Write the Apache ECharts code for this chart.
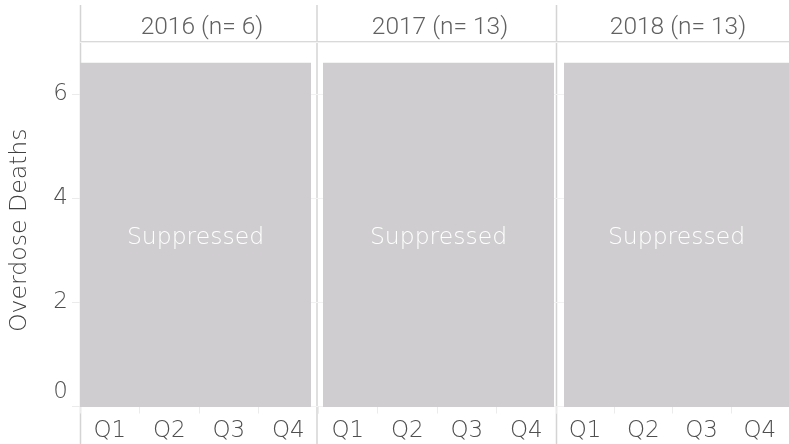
<!DOCTYPE html>
<html>
<head>
<meta charset="utf-8">
<script src="https://cdn.jsdelivr.net/npm/echarts@6/dist/echarts.min.js"></script>
<style>
  html, body { margin: 0; padding: 0; background: #fff; }
  #chart { width: 789px; height: 444px; }
</style>
</head>
<body>
<div id="chart"></div>
<script>
// ---- data ----
const years = ['2016', '2017', '2018'];
const counts = [6, 13, 13];
const quarters = ['Q1', 'Q2', 'Q3', 'Q4'];
const suppressedHeight = [6.6, 6.6, 6.6];
const suppressedLabel = 'Suppressed';
const yTitle = 'Overdose Deaths';

// ---- styling / layout ----
const FONT = "'DejaVu Sans', Roboto, sans-serif";
const FW = 200;
const FONT2 = "Roboto, sans-serif";
const FW2 = 300;
const panelLeft = [80, 318, 556];
const panelWidth = 238;
const gridTop = 42;
const gridBottom = 37.5;
const rectInset = [[0, 7], [5, 2], [8, 0]];
const barColor = '#cfcdcf';
const textColor = '#4f4f4f';

const chart = echarts.init(document.getElementById('chart'));

const grids = [], xAxes = [], yAxes = [], series = [], titles = [];
years.forEach((yr, i) => {
  grids.push({ left: panelLeft[i], width: panelWidth, top: gridTop, bottom: gridBottom });
  xAxes.push({
    type: 'category', gridIndex: i, data: quarters, boundaryGap: true,
    axisLine: { show: false },
    axisTick: { show: true, length: 7, lineStyle: { color: '#ebebeb' } },
    axisLabel: { color: textColor, fontSize: 23, fontFamily: FONT, fontWeight: FW, margin: 13 },
    splitLine: { show: false }
  });
  yAxes.push({
    type: 'value', gridIndex: i, min: 0, max: 7, interval: 2,
    name: i === 0 ? yTitle : '', nameLocation: 'middle', nameGap: 48,
    nameTextStyle: { color: '#404040', fontSize: 23.6, fontFamily: FONT, fontWeight: FW, padding: [0, 12, 0, 0] },
    axisLine: { show: false },
    axisTick: { show: i === 0, length: 8, lineStyle: { color: '#ebebeb' } },
    axisLabel: {
      show: i === 0, showMaxLabel: false, margin: 12,
      color: textColor, fontSize: 23, fontFamily: FONT, fontWeight: FW,
      formatter: v => v === 0 ? '{z|0}' : String(v),
      rich: { z: { color: textColor, fontSize: 23, fontFamily: FONT, fontWeight: FW, padding: [0, 0, 29, 0] } }
    },
    splitLine: { show: true, lineStyle: { color: '#f2f2f2', width: 1 } }
  });
  titles.push({
    text: yr + ' (n= ' + counts[i] + ')',
    left: panelLeft[i] + panelWidth / 2 - 2, top: 10, textAlign: 'center',
    textStyle: { color: '#616161', fontSize: 24.5, fontFamily: FONT2, fontWeight: FW2 }
  });
  series.push({
    type: 'custom', xAxisIndex: i, yAxisIndex: i, z: 3,
    data: [[0, suppressedHeight[i]]],
    encode: { x: 0, y: 1 },
    renderItem: (params, api) => {
      const band = api.size([1, 0])[0];
      const base = api.coord([0, 0]);
      const topPt = api.coord([0, api.value(1)]);
      const last = api.coord([quarters.length - 1, 0]);
      const ins = rectInset[params.seriesIndex];
      const x0 = base[0] - band / 2 + ins[0];
      const x1 = last[0] + band / 2 - ins[1];
      return {
        type: 'group',
        children: [
          { type: 'rect', shape: { x: x0, y: topPt[1], width: x1 - x0, height: base[1] - topPt[1] + 0.5 },
            style: { fill: barColor } },
          { type: 'text', z2: 10,
            style: { text: suppressedLabel, x: (x0 + x1) / 2, y: (topPt[1] + base[1]) / 2 + 3,
              align: 'center', verticalAlign: 'middle', fill: '#ffffff',
              fontSize: 23.5, fontFamily: FONT, fontWeight: FW } }
        ]
      };
    }
  });
});

const graphics = [];
[80.5, 317, 556.5].forEach(x => {
  graphics.push({ type: 'line', z: 0, shape: { x1: x, y1: 5, x2: x, y2: 444 },
    style: { stroke: '#d4d4d4', lineWidth: 1.5 } });
});
graphics.push({ type: 'line', z: 0, shape: { x1: 80, y1: 42, x2: 789, y2: 42 },
  style: { stroke: '#d9d9d9', lineWidth: 2 } });

chart.setOption({
  animation: false,
  title: titles,
  grid: grids,
  xAxis: xAxes,
  yAxis: yAxes,
  series: series,
  graphic: graphics
});
</script>
</body>
</html>
